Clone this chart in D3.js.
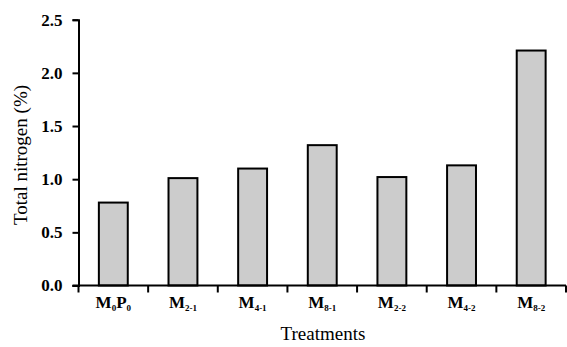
<!DOCTYPE html>
<html><head><meta charset="utf-8">
<script src="https://cdn.jsdelivr.net/npm/d3@7/dist/d3.min.js"></script>
<style>body{margin:0;background:#fff}svg{display:block}svg text{font-family:"Liberation Serif";fill:#000}</style>
</head><body>
<svg id="c" width="567" height="347"></svg>
<script>
const categories = ["M0P0","M2-1","M4-1","M8-1","M2-2","M4-2","M8-2"];
const labelMain = ["M","M","M","M","M","M","M"];
const labelSub = [["0","P","0"],["2-1"],["4-1"],["8-1"],["2-2"],["4-2"],["8-2"]];
const values = [0.78, 1.01, 1.10, 1.32, 1.02, 1.13, 2.21];
const yTicks = [0.0, 0.5, 1.0, 1.5, 2.0, 2.5];

(function(){
const svg = d3.select("#c");
const mL = 78.5, mR = 566, mT = 19.7, mB = 285.5;
const x = d3.scaleBand().domain(categories).range([mL, mR]).paddingInner(0).paddingOuter(0);
const y = d3.scaleLinear().domain([0, 2.5]).range([mB, mT]);
const barW = x.bandwidth() * 0.415;

// bars
svg.append("g").selectAll("rect").data(values).join("rect")
  .attr("x", (d,i) => x(categories[i]) + x.bandwidth()/2 - barW/2)
  .attr("y", d => y(d))
  .attr("width", barW)
  .attr("height", d => y(0) - y(d))
  .attr("fill", "#cccccc").attr("stroke", "#000").attr("stroke-width", 2);

// y axis
const ya = svg.append("g").attr("transform", `translate(${mL},0)`)
  .call(d3.axisLeft(y).tickValues(yTicks).tickFormat(d3.format(".1f")).tickSize(6).tickPadding(10).tickSizeOuter(6));
ya.attr("font-family", null).attr("font-size", null);
ya.select(".domain").attr("stroke-width", 2);
ya.selectAll(".tick line").attr("stroke-width", 2);
ya.selectAll(".tick text").attr("font-size", 17).attr("font-weight", "bold");

// x axis line and boundary ticks
const xa = svg.append("g");
xa.append("line").attr("x1", mL - 6).attr("x2", mR).attr("y1", y(0)).attr("y2", y(0)).attr("stroke", "#000").attr("stroke-width", 2);
const bounds = categories.map(c => x(c)).concat([x(categories[categories.length-1]) + x.bandwidth()]);
xa.selectAll("line.t").data(bounds).join("line").attr("class","t")
  .attr("x1", d => d).attr("x2", d => d).attr("y1", y(0)).attr("y2", y(0) + 7)
  .attr("stroke", "#000").attr("stroke-width", 2);

// x labels
const lab = xa.selectAll("text.l").data(categories).join("text").attr("class","l")
  .attr("x", d => x(d) + x.bandwidth()/2).attr("y", 308)
  .attr("text-anchor", "middle").attr("font-size", 17).attr("font-weight", "bold");
lab.each(function(d, i) {
  const t = d3.select(this);
  t.append("tspan").text(labelMain[i]);
  const s = labelSub[i];
  if (s.length === 3) {
    t.append("tspan").attr("font-size", 9).attr("dy", 3).text(s[0]);
    t.append("tspan").attr("dy", -3).text(s[1]);
    t.append("tspan").attr("font-size", 9).attr("dy", 3).text(s[2]);
  } else {
    t.append("tspan").attr("font-size", 9).attr("dy", 3).text(s[0]);
  }
});

// titles
svg.append("text").attr("x", 323).attr("y", 340).attr("text-anchor", "middle")
  .attr("font-size", 19).text("Treatments");
svg.append("text").attr("transform", "translate(27,155) rotate(-90)").attr("text-anchor", "middle")
  .attr("font-size", 19).text("Total nitrogen (%)");
})();
</script>
</body></html>
